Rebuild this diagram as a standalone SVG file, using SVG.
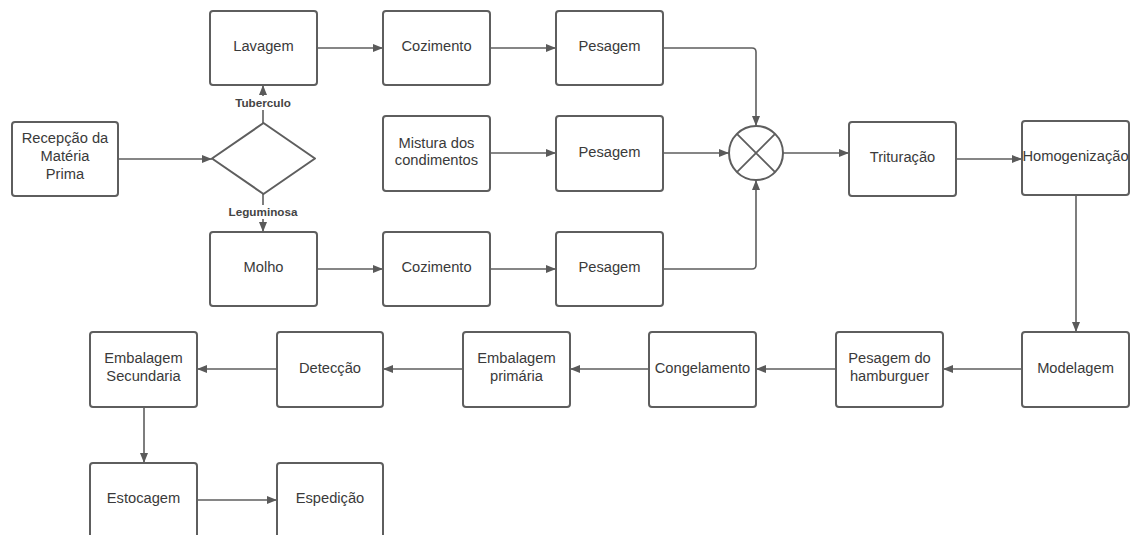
<svg xmlns="http://www.w3.org/2000/svg" width="1132" height="535" viewBox="0 0 1132 535">
  <defs>
    <marker id="arrow" viewBox="0 0 10 10" refX="10" refY="5" markerWidth="10" markerHeight="10" markerUnits="userSpaceOnUse" orient="auto">
      <path d="M0,1 L10,5 L0,9 Z" fill="#5a5a5a"/>
    </marker>
    <style>
      .box { fill: #ffffff; stroke: #5e5e5e; stroke-width: 2; }
      .lbl { font-family: "Liberation Sans", Arial, sans-serif; font-size: 14.7px; fill: #3a3a3a; text-anchor: middle; }
      .tag { font-family: "Liberation Sans", Arial, sans-serif; font-size: 11.7px; font-weight: bold; fill: #444444; text-anchor: middle; }
      .edge { fill: none; stroke: #5e5e5e; stroke-width: 1.6; }
    </style>
  </defs>
  <rect width="1132" height="535" fill="#ffffff"/>

  <!-- connectors -->
  <g id="connectors">
    <path class="edge" d="M118,159 H212" marker-end="url(#arrow)"/>
    <path class="edge" d="M263,123 V85" marker-end="url(#arrow)"/>
    <path class="edge" d="M263,194 V232" marker-end="url(#arrow)"/>
    <path class="edge" d="M317,48 H383" marker-end="url(#arrow)"/>
    <path class="edge" d="M490,48 H556" marker-end="url(#arrow)"/>
    <path class="edge" d="M663,48 H752 Q756,48 756,52 V126" marker-end="url(#arrow)"/>
    <path class="edge" d="M490,153 H556" marker-end="url(#arrow)"/>
    <path class="edge" d="M663,153 H729" marker-end="url(#arrow)"/>
    <path class="edge" d="M317,269 H383" marker-end="url(#arrow)"/>
    <path class="edge" d="M490,269 H556" marker-end="url(#arrow)"/>
    <path class="edge" d="M663,269 H752 Q756,269 756,265 V180" marker-end="url(#arrow)"/>
    <path class="edge" d="M783,153 H849" marker-end="url(#arrow)"/>
    <path class="edge" d="M956,159 H1022" marker-end="url(#arrow)"/>
    <path class="edge" d="M1076,195 V332" marker-end="url(#arrow)"/>
    <path class="edge" d="M1022,369 H943" marker-end="url(#arrow)"/>
    <path class="edge" d="M836,369 H756" marker-end="url(#arrow)"/>
    <path class="edge" d="M649,369 H570" marker-end="url(#arrow)"/>
    <path class="edge" d="M463,369 H383" marker-end="url(#arrow)"/>
    <path class="edge" d="M277,369 H197" marker-end="url(#arrow)"/>
    <path class="edge" d="M144,407 V463" marker-end="url(#arrow)"/>
    <path class="edge" d="M197,500 H277" marker-end="url(#arrow)"/>
    <!-- branch labels over the decision lines -->
    <rect x="233" y="96" width="60" height="14" fill="#ffffff"/>
    <text class="tag" x="263" y="107">Tuberculo</text>
    <rect x="227" y="205" width="72" height="14" fill="#ffffff"/>
    <text class="tag" x="263" y="216">Leguminosa</text>
  </g>

  <g id="recepcao">
    <rect class="box" x="12" y="122" width="106" height="74" rx="3"/>
    <text class="lbl" x="65" y="143">Recepção da</text>
    <text class="lbl" x="65" y="161">Matéria</text>
    <text class="lbl" x="65" y="179">Prima</text>
  </g>

  <g id="decisao">
    <path class="box" d="M263.5,123 L315,158.5 L263.5,194 L212,158.5 Z" stroke-linejoin="round"/>
  </g>

  <g id="lavagem">
    <rect class="box" x="210" y="11" width="107" height="74" rx="3"/>
    <text class="lbl" x="263.5" y="51">Lavagem</text>
  </g>
  <g id="cozimento1">
    <rect class="box" x="383" y="11" width="107" height="74" rx="3"/>
    <text class="lbl" x="436.5" y="51">Cozimento</text>
  </g>
  <g id="pesagem1">
    <rect class="box" x="556" y="11" width="107" height="74" rx="3"/>
    <text class="lbl" x="609.5" y="51">Pesagem</text>
  </g>

  <g id="mistura">
    <rect class="box" x="383" y="116" width="107" height="75" rx="3"/>
    <text class="lbl" x="436.5" y="148">Mistura dos</text>
    <text class="lbl" x="436.5" y="165">condimentos</text>
  </g>
  <g id="pesagem2">
    <rect class="box" x="556" y="116" width="107" height="75" rx="3"/>
    <text class="lbl" x="609.5" y="157">Pesagem</text>
  </g>

  <g id="molho">
    <rect class="box" x="210" y="232" width="107" height="74" rx="3"/>
    <text class="lbl" x="263.5" y="272">Molho</text>
  </g>
  <g id="cozimento2">
    <rect class="box" x="383" y="232" width="107" height="74" rx="3"/>
    <text class="lbl" x="436.5" y="272">Cozimento</text>
  </g>
  <g id="pesagem3">
    <rect class="box" x="556" y="232" width="107" height="74" rx="3"/>
    <text class="lbl" x="609.5" y="272">Pesagem</text>
  </g>

  <g id="juncao">
    <circle cx="756" cy="153" r="27" fill="#ffffff" stroke="#5e5e5e" stroke-width="2"/>
    <path d="M736.9,133.9 L775.1,172.1 M775.1,133.9 L736.9,172.1" stroke="#5e5e5e" stroke-width="1.8" fill="none"/>
  </g>

  <g id="trituracao">
    <rect class="box" x="849" y="122" width="107" height="74" rx="3"/>
    <text class="lbl" x="902.5" y="162">Trituração</text>
  </g>
  <g id="homogeneizacao">
    <rect class="box" x="1022" y="121" width="107" height="74" rx="3"/>
    <text class="lbl" x="1075.5" y="161">Homogenização</text>
  </g>

  <g id="modelagem">
    <rect class="box" x="1022" y="332" width="107" height="75" rx="3"/>
    <text class="lbl" x="1075.5" y="373">Modelagem</text>
  </g>
  <g id="pesagem-hamburguer">
    <rect class="box" x="836" y="332" width="107" height="75" rx="3"/>
    <text class="lbl" x="889.5" y="363">Pesagem do</text>
    <text class="lbl" x="889.5" y="381">hamburguer</text>
  </g>
  <g id="congelamento">
    <rect class="box" x="649" y="332" width="107" height="75" rx="3"/>
    <text class="lbl" x="702.5" y="373">Congelamento</text>
  </g>
  <g id="embalagem-primaria">
    <rect class="box" x="463" y="332" width="107" height="75" rx="3"/>
    <text class="lbl" x="516.5" y="363">Embalagem</text>
    <text class="lbl" x="516.5" y="381">primária</text>
  </g>
  <g id="deteccao">
    <rect class="box" x="277" y="332" width="106" height="75" rx="3"/>
    <text class="lbl" x="330" y="373">Detecção</text>
  </g>
  <g id="embalagem-secundaria">
    <rect class="box" x="90" y="332" width="107" height="75" rx="3"/>
    <text class="lbl" x="143.5" y="363">Embalagem</text>
    <text class="lbl" x="143.5" y="381">Secundaria</text>
  </g>

  <g id="estocagem">
    <rect class="box" x="90" y="463" width="107" height="75" rx="3"/>
    <text class="lbl" x="143.5" y="503">Estocagem</text>
  </g>
  <g id="espedicao">
    <rect class="box" x="277" y="463" width="106" height="75" rx="3"/>
    <text class="lbl" x="330" y="503">Espedição</text>
  </g>
</svg>
